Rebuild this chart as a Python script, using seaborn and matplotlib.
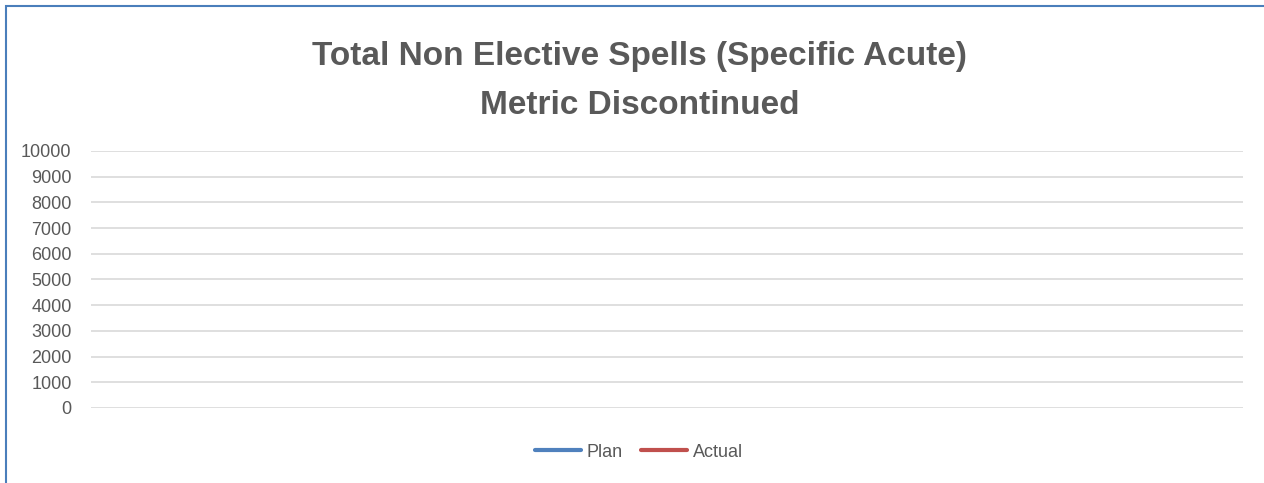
import matplotlib
matplotlib.use("Agg")
import matplotlib.pyplot as plt
import matplotlib.patches as patches
import seaborn as sns

# chart data (metric discontinued, so the series are empty)
months = []
plan = []
actual = []
y_ticks = [0, 1000, 2000, 3000, 4000, 5000, 6000, 7000, 8000, 9000, 10000]
series_names = ["Plan", "Actual"]
series_colors = ["#4F81BD", "#C0504D"]

sns.set_style("white")
plt.rcParams['font.family'] = ['Liberation Sans', 'DejaVu Sans']

fig = plt.figure(figsize=(12.64, 4.83), dpi=100)
ax = fig.add_axes([0.072, 0.1553, 0.9114, 0.5321])

for name, vals, col in zip(series_names, [plan, actual], series_colors):
    ax.plot(months, vals, color=col, linewidth=3, solid_capstyle="round", label=name)

ax.set_ylim(0, 10000)
ax.set_yticks(y_ticks)
ax.set_xticks([])
ax.grid(axis="y", color="#D9D9D9", linewidth=1.2)
ax.tick_params(axis="y", length=0, pad=14, labelsize=13, labelcolor="#595959")
for s in ax.spines.values():
    s.set_visible(False)

fig.text(0.506, 0.882, "Total Non Elective Spells (Specific Acute)", ha="center", va="center",
         fontsize=24, fontweight="bold", color="#595959")
fig.text(0.506, 0.781, "Metric Discontinued", ha="center", va="center",
         fontsize=24, fontweight="bold", color="#595959")

fig.legend(loc="center", bbox_to_anchor=(0.5055, 0.064), ncol=2, frameon=False,
           fontsize=13, handlelength=2.55, handletextpad=0.28, columnspacing=1.05,
           labelcolor="#595959")

border = patches.Rectangle((5.5 / 1264, -0.1), 1.2, 1 - 6 / 483 + 0.1,
                           transform=fig.transFigure, fill=False,
                           edgecolor="#4A7EBB", linewidth=1.5)
fig.patches.append(border)

fig.savefig("out.png", dpi=100)
